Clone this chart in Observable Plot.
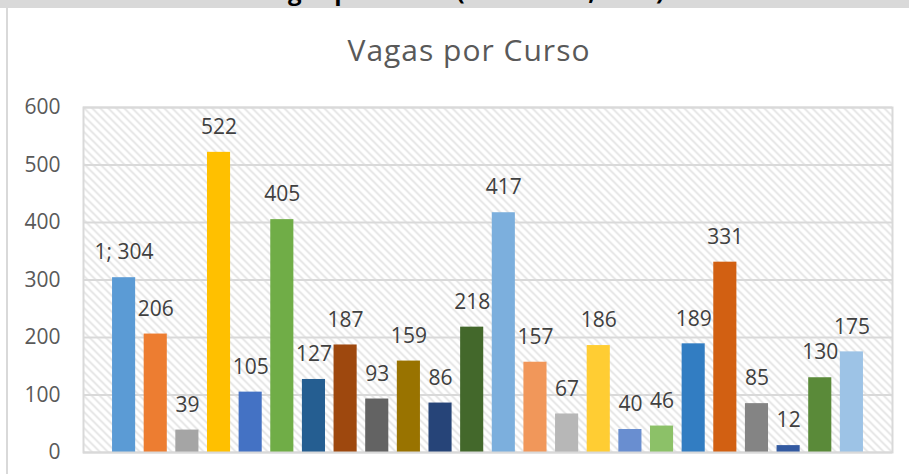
<!DOCTYPE html>
<html>
<head>
<meta charset="utf-8">
<script src="https://cdn.jsdelivr.net/npm/d3@7"></script>
<script src="https://cdn.jsdelivr.net/npm/@observablehq/plot@0.6"></script>
<style>
  html, body { margin: 0; padding: 0; background: #fff; }
  #wrap { position: relative; width: 909px; height: 474px; overflow: hidden; font-family: "Open Sans", sans-serif; }
  #band { position: absolute; left: 0; top: 0; width: 909px; height: 8px; background: #D9D9D9; overflow: hidden; }
  #band span { position: absolute; left: 258px; top: -26px; font: bold 24px "Open Sans", sans-serif; color: #000; white-space: nowrap; }
  #edge { position: absolute; left: 6px; top: 8px; width: 2px; height: 466px; background: #D9D9D9; }
  #title { position: absolute; left: 0; width: 938px; top: 29px; text-align: center; font: 400 30px "Open Sans", sans-serif; letter-spacing: 1px; color: #595959; }
  #chart { position: absolute; left: 0; top: 0; }
</style>
</head>
<body>
<div id="wrap">
  <div id="band"><span>Vagas por Curso (Presencial, 2019)</span></div>
  <div id="edge"></div>
  <div id="title">Vagas por Curso</div>
  <div id="chart"></div>
</div>
<script>
const cursos = ["1","2","3","4","5","6","7","8","9","10","11","12","13","14","15","16","17","18","19","20","21","22","23","24"];
const vagas = [304, 206, 39, 522, 105, 405, 127, 187, 93, 159, 86, 218, 417, 157, 67, 186, 40, 46, 189, 331, 85, 12, 130, 175];
const rotulos = ["1; 304","206","39","522","105","405","127","187","93","159","86","218","417","157","67","186","40","46","189","331","85","12","130","175"];
const cores = ["#5B9BD5","#ED7D31","#A5A5A5","#FFC000","#4472C4","#70AD47","#255E91","#9E480E","#636363","#997300","#264478","#43682B","#7CAFDD","#F1975A","#B7B7B7","#FFCD33","#698ED0","#8CC168","#327DC2","#D26012","#848484","#335AA1","#5A8A39","#9DC3E6"];
const yTicks = [0, 100, 200, 300, 400, 500, 600];

const data = cursos.map((c, i) => ({curso: c, vagas: vagas[i], rotulo: rotulos[i], cor: cores[i]}));

const chart = Plot.plot({
  width: 909,
  height: 474,
  marginTop: 107,
  marginBottom: 22,
  marginLeft: 83,
  marginRight: 17,
  style: {fontFamily: "'Open Sans', sans-serif", fontSize: "21px", color: "#595959", background: "transparent"},
  x: {domain: cursos, padding: 0.27, round: false, range: [103.5, 871.5], axis: null},
  y: {domain: [0, 600], ticks: yTicks, tickSize: 0, tickPadding: 23, label: null, tickFormat: d => String(d)},
  marks: [
    Plot.frame({fill: "url(#hatch)", stroke: null}),
    Plot.gridY(yTicks, {stroke: "#D9D9D9", strokeOpacity: 1, strokeWidth: 2}),
    Plot.barY(data, {x: "curso", y: "vagas", fill: d => d.cor}),
    Plot.text(data, {x: "curso", y: "vagas", text: "rotulo", dy: -25, fill: "#404040", fontSize: 21}),
    Plot.frame({stroke: "#D9D9D9", strokeWidth: 2}),
    Plot.axisY(yTicks, {tickSize: 0, tickPadding: 23, fill: "#595959", fontSize: 21, label: null})
  ],
  color: {type: "identity"}
});

const svg = d3.select(chart);
const defs = svg.insert("defs", ":first-child");
const pat = defs.append("pattern")
  .attr("id", "hatch")
  .attr("patternUnits", "userSpaceOnUse")
  .attr("width", 8).attr("height", 8);
pat.append("path")
  .attr("d", "M0,0L8,8M-2,6L2,10M6,-2L10,2")
  .attr("stroke", "#E2E2E2")
  .attr("stroke-width", 1.7);

document.getElementById("chart").appendChild(chart);
</script>
</body>
</html>
